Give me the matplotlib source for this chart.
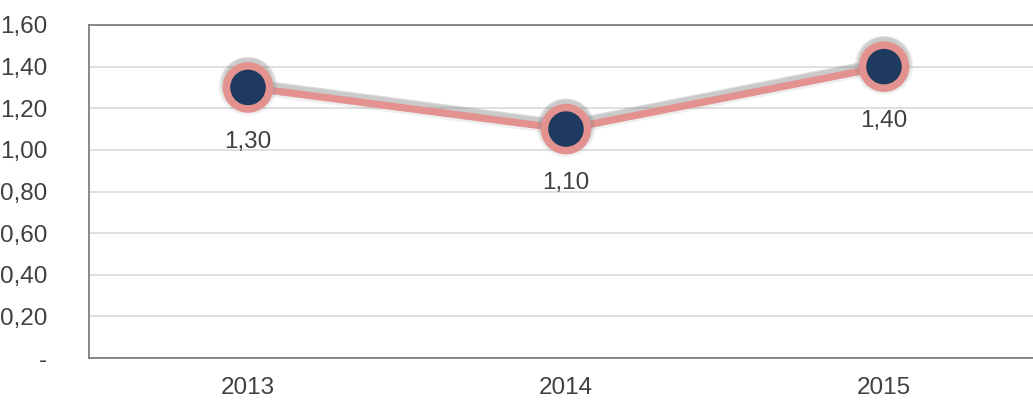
import matplotlib
matplotlib.use("Agg")
import matplotlib.pyplot as plt
import matplotlib.patheffects as pe
from matplotlib.ticker import FuncFormatter

years = ["2013", "2014", "2015"]
values = [1.30, 1.10, 1.40]
y_ticks = [0.0, 0.2, 0.4, 0.6, 0.8, 1.0, 1.2, 1.4, 1.6]

plt.rcParams['font.family'] = ['Liberation Sans', 'DejaVu Sans']
text_color = "#404040"
font_size = 17.5

fig = plt.figure(figsize=(10.33, 4.08), dpi=100)
ax = fig.add_axes([89 / 1033, 50 / 408, 954 / 1033, 333 / 408])

x = list(range(len(years)))
shadow = [pe.SimpleLineShadow(offset=(0, dy), shadow_color="#7f7f7f", alpha=0.12,
                              linewidth=lw)
          for dy, lw in [(1.0, 11), (2.0, 9), (2.5, 7), (3.0, 5)]]
ax.plot(x, values, color="#e3928f", lw=5.2, zorder=3,
        marker="o", markersize=31, markerfacecolor="#1f3a5f",
        markeredgecolor="#e3928f", markeredgewidth=5.4,
        path_effects=shadow + [pe.Normal()])

for xi, v in zip(x, values):
    ax.annotate(f"{v:.2f}".replace(".", ","), (xi, v), xytext=(0, -39),
                textcoords="offset points", ha="center", va="center",
                fontsize=font_size, color=text_color, zorder=4)

ax.set_xlim(-0.5, len(years) - 0.5)
ax.set_ylim(0, 1.6)
ax.set_xticks(x)
ax.set_xticklabels(years)
ax.set_yticks(y_ticks)
ax.yaxis.set_major_formatter(FuncFormatter(
    lambda v, _: "-" if abs(v) < 1e-9 else f"{v:.2f}".replace(".", ",")))

ax.grid(axis="y", color="#d9d9d9", lw=1.2)
ax.set_axisbelow(True)
ax.tick_params(length=0, labelsize=font_size, colors=text_color)
ax.tick_params(axis="y", pad=30)
ax.tick_params(axis="x", pad=14)
for side in ["left", "bottom", "top"]:
    ax.spines[side].set_color("#7f7f7f")
    ax.spines[side].set_linewidth(1.3)
ax.spines["right"].set_visible(False)

fig.savefig("out.png", dpi=100)
